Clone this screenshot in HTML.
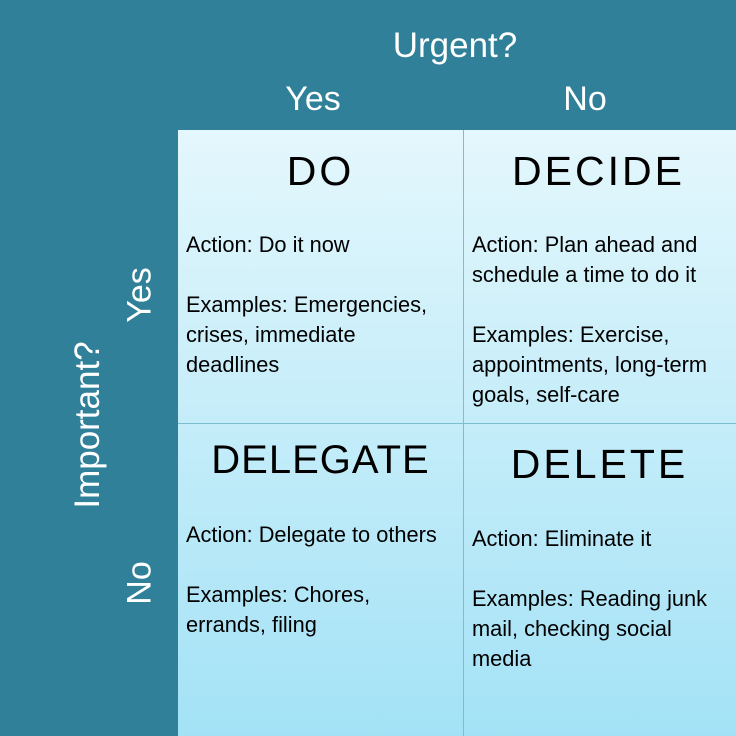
<!DOCTYPE html>
<html><head><meta charset="utf-8"><style>
body{margin:0;width:736px;height:736px;overflow:hidden;background:#2f8098;font-family:"Liberation Sans",sans-serif;position:relative}
.t{position:absolute;color:#fff;white-space:nowrap}
.grid{position:absolute;left:178px;top:130px;width:558px;height:606px;background:linear-gradient(#e4f7fc,#a3e2f6)}
.vl{position:absolute;left:285px;top:0;width:1px;height:606px;background:#7dbdd0}
.hl{position:absolute;left:0;top:293px;width:558px;height:1px;background:#7dbdd0}
.h{position:absolute;color:#000;font-size:41px;letter-spacing:3px;text-align:center;width:285px;white-space:nowrap}
.b{position:absolute;color:#000;font-size:21.8px;line-height:30px;white-space:nowrap}
</style></head><body>
<div class="t" style="left:0;width:910px;text-align:center;top:26px;font-size:35px">Urgent?</div>
<div class="t" style="left:263px;width:100px;text-align:center;top:80px;font-size:34px">Yes</div>
<div class="t" style="left:535px;width:100px;text-align:center;top:80px;font-size:34px">No</div>
<div class="t" style="left:88px;top:425px;font-size:35px;transform:translate(-50%,-50%) rotate(-90deg)">Important?</div>
<div class="t" style="left:140px;top:295px;font-size:34px;transform:translate(-50%,-50%) rotate(-90deg)">Yes</div>
<div class="t" style="left:140px;top:583px;font-size:34px;transform:translate(-50%,-50%) rotate(-90deg)">No</div>
<div class="grid">
<div class="vl"></div>
<div class="hl"></div>
<div class="h" style="left:0;top:18px">DO</div>
<div class="h" style="left:278px;top:18px">DECIDE</div>
<div class="h" style="left:0;top:308px;letter-spacing:1px;font-size:40px">DELEGATE</div>
<div class="h" style="left:279px;top:311px">DELETE</div>
<div class="b" style="left:8px;top:100px">Action: Do it now<br><br>Examples: Emergencies,<br>crises, immediate<br>deadlines</div>
<div class="b" style="left:294px;top:100px">Action: Plan ahead and<br>schedule a time to do it<br><br>Examples: Exercise,<br>appointments, long-term<br>goals, self-care</div>
<div class="b" style="left:8px;top:390px">Action: Delegate to others<br><br>Examples: Chores,<br>errands, filing</div>
<div class="b" style="left:294px;top:394px">Action: Eliminate it<br><br>Examples: Reading junk<br>mail, checking social<br>media</div>
</div>
</body></html>
